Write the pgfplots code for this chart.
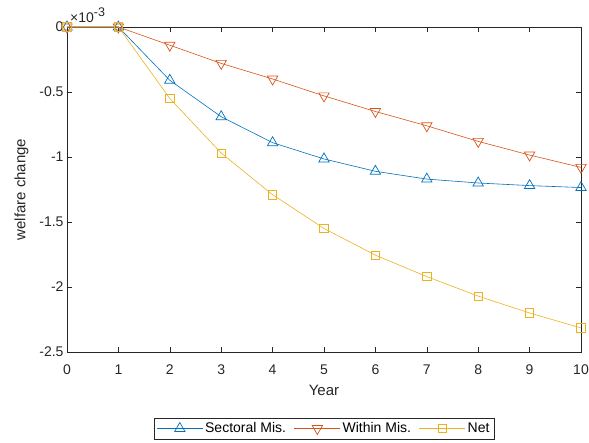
\documentclass[border=0pt]{standalone}
\usepackage{pgfplots}
\pgfplotsset{compat=1.18}
\usepackage{fontspec}
\setmainfont{Liberation Sans}
\definecolor{mb}{rgb}{0,0.447,0.741}
\definecolor{mo}{rgb}{0.85,0.325,0.098}
\definecolor{my}{rgb}{0.929,0.694,0.125}
\definecolor{ax}{rgb}{0.15,0.15,0.15}
\pgfplotstableread{
x sec within net
0 0 0 0
1 0 0 0
2 -0.41 -0.14 -0.55
3 -0.69 -0.28 -0.97
4 -0.89 -0.40 -1.29
5 -1.015 -0.53 -1.55
6 -1.11 -0.65 -1.755
7 -1.17 -0.76 -1.92
8 -1.20 -0.88 -2.07
9 -1.22 -0.985 -2.20
10 -1.235 -1.08 -2.315
}\data
\begin{document}
\begin{tikzpicture}[x=1pt,y=1pt]
\begin{axis}[
  scale only axis, width=514pt, height=325pt,
  xmin=0, xmax=10, ymin=-2.5, ymax=0,
  xtick={0,...,10},
  ytick={-2.5,-2,-1.5,-1,-0.5,0},
  yticklabels={-2.5,-2,-1.5,-1,-0.5,0},
  tick align=inside, major tick length=5pt,
  axis line style={ax, line width=0.5pt},
  every tick/.style={ax, line width=0.5pt},
  tick label style={font=\fontsize{14}{16}\selectfont, text=ax},
  xticklabel style={yshift=-9pt},
  /pgf/number format/assume math mode=true,
  xlabel={Year}, ylabel={welfare change},
  label style={font=\fontsize{15}{17}\selectfont, text=ax},
  xlabel style={yshift=-4pt},
  ylabel style={yshift=4pt},
  legend columns=3,
  legend style={at={(0.5,-0.203)}, anchor=north, draw=ax, line width=0.5pt,
    font=\fontsize{14}{16}\selectfont, inner sep=2.5pt,
    /tikz/every even column/.append style={column sep=6pt}},
  legend cell align=left,
  legend image code/.code={\draw[mark repeat=2,mark phase=2,#1] plot coordinates {(0pt,0pt) (23pt,0pt) (46pt,0pt)};},
  clip=false,
]
\addplot[mb, line width=0.6pt, mark=triangle, mark size=6pt, mark options={solid, line width=0.7pt}] table[x=x,y=sec] {\data};
\addlegendentry{Sectoral Mis.}
\addplot[mo, line width=0.6pt, mark=triangle, mark size=6pt, mark options={solid, rotate=180, line width=0.7pt}] table[x=x,y=within] {\data};
\addlegendentry{Within Mis.}
\addplot[my, line width=0.6pt, mark=square, mark size=4.2pt, mark options={solid, line width=0.7pt}] table[x=x,y=net] {\data};
\addlegendentry{Net}
\node[anchor=base west, text=ax, inner sep=0pt] at (rel axis cs:0,1) [xshift=3pt,yshift=4pt] {\fontsize{14}{16}\selectfont ×10\raisebox{6pt}{\fontsize{12.5}{14}\selectfont -3}};
\coordinate (ll) at (rel axis cs:0,0);
\coordinate (ur) at (rel axis cs:1,1);
\end{axis}
\pgfresetboundingbox
\useasboundingbox ([xshift=-67pt,yshift=-91pt]ll) rectangle ([xshift=8pt,yshift=27pt]ur);
\end{tikzpicture}
\end{document}
